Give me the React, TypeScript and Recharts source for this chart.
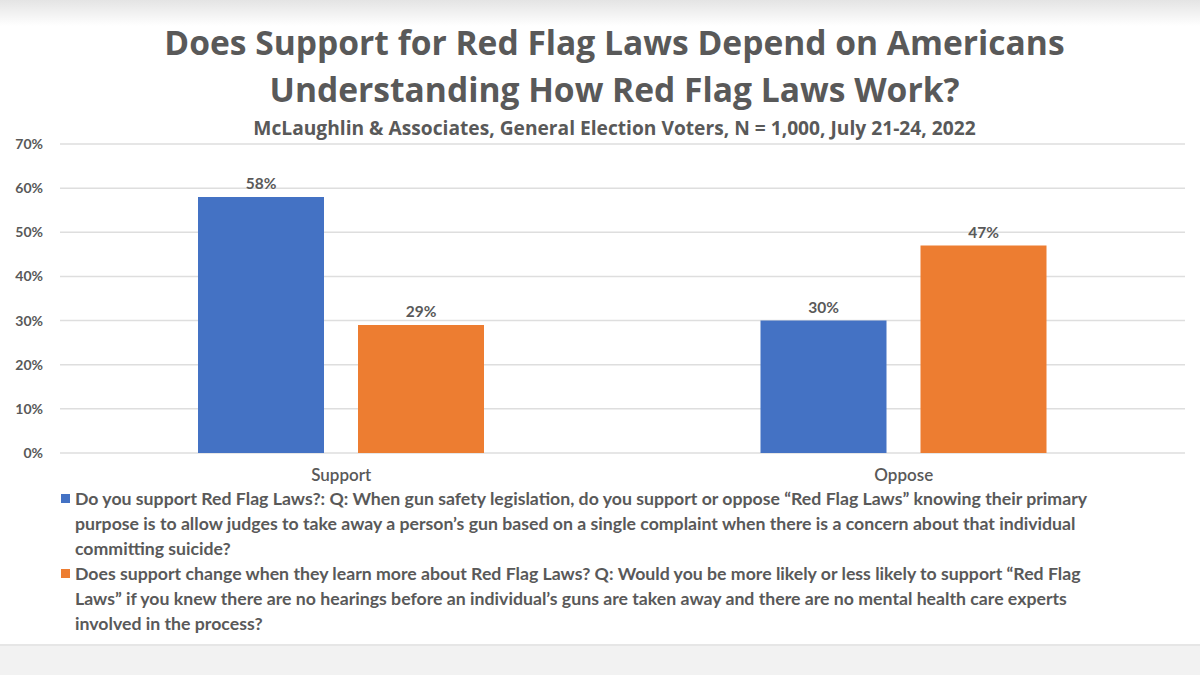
import React from "react";
import { BarChart, Bar, XAxis, YAxis, CartesianGrid, LabelList } from "recharts";

const categories = ["Support", "Oppose"];
const seriesNames = [
  "Do you support Red Flag Laws?: Q: When gun safety legislation, do you support or oppose “Red Flag Laws” knowing their primary purpose is to allow judges to take away a person’s gun based on a single complaint when there is a concern about that individual committing suicide?",
  "Does support change when they learn more about Red Flag Laws? Q: Would you be more likely or less likely to support “Red Flag Laws” if you knew there are no hearings before an individual’s guns are taken away and there are no mental health care experts involved in the process?",
];
const legendLines = [
  [
    "Do you support Red Flag Laws?: Q: When gun safety legislation, do you support or oppose “Red Flag Laws” knowing their primary",
    "purpose is to allow judges to take away a person’s gun based on a single complaint when there is a concern about that individual",
    "committing suicide?",
  ],
  [
    "Does support change when they learn more about Red Flag Laws? Q: Would you be more likely or less likely to support “Red Flag",
    "Laws” if you knew there are no hearings before an individual’s guns are taken away and there are no mental health care experts",
    "involved in the process?",
  ],
];
const knowPurpose = [58, 30];
const learnMore = [29, 47];
const yTicks = [0, 10, 20, 30, 40, 50, 60, 70];
const colors = ["#4472C4", "#ED7D31"];

const data = categories.map((c, i) => ({ name: c, a: knowPurpose[i], b: learnMore[i] }));

const FONT = "Lato, 'Open Sans', sans-serif";
const TFONT = "'Open Sans', Lato, sans-serif";
const GRAY = "#595959";

export default function App() {
  return (
    <div style={{ position: "absolute", left: 0, top: 0, width: 1200, height: 675, background: "#fff", overflow: "hidden", fontFamily: FONT }}>
      <div style={{ position: "absolute", left: 0, top: 0, width: 1200, height: 26, background: "linear-gradient(#e4e4e4, #ffffff)" }} />
      <div style={{ position: "absolute", left: 0, top: 644, width: 1200, height: 31, background: "#f2f2f2", borderTop: "2px solid #e6e6e6" }} />
      <div style={{ position: "absolute", left: 0, width: 1229, top: 19, textAlign: "center", fontFamily: TFONT, fontSize: 33.6, fontWeight: 700, color: GRAY, lineHeight: "47px", whiteSpace: "nowrap" }}>
        Does Support for Red Flag Laws Depend on Americans
        <br />
        Understanding How Red Flag Laws Work?
      </div>
      <div style={{ position: "absolute", left: 0, width: 1229, top: 116, textAlign: "center", fontFamily: TFONT, fontSize: 19.2, fontWeight: 700, color: GRAY, lineHeight: "24px", whiteSpace: "nowrap" }}>
        McLaughlin &amp; Associates, General Election Voters, N = 1,000, July 21-24, 2022
      </div>
      <div style={{ position: "absolute", left: 0, top: 0 }}>
        <BarChart width={1200} height={490} data={data} margin={{ top: 144, right: 15, bottom: 7, left: 0 }} barGap={34} barSize={126}>
          <CartesianGrid vertical={false} stroke="#dedede" strokeWidth={1.5} />
          <XAxis dataKey="name" axisLine={false} tickLine={false} tickSize={0} tickMargin={16} height={30}
            tick={{ fill: GRAY, fontSize: 17, fontWeight: 600, fontFamily: FONT }} />
          <YAxis width={60} domain={[0, 70]} ticks={yTicks} interval={0} axisLine={false} tickLine={false} tickSize={0} tickMargin={17}
            tickFormatter={(v: number) => `${v}%`} tick={{ fill: GRAY, fontSize: 14, fontWeight: 700, fontFamily: FONT }} />
          <Bar dataKey="a" name={seriesNames[0]} fill={colors[0]} isAnimationActive={false}>
            <LabelList dataKey="a" position="top" offset={8} formatter={(v: number) => `${v}%`}
              style={{ fill: GRAY, fontSize: 15.5, fontWeight: 700, fontFamily: FONT }} />
          </Bar>
          <Bar dataKey="b" name={seriesNames[1]} fill={colors[1]} isAnimationActive={false}>
            <LabelList dataKey="b" position="top" offset={8} formatter={(v: number) => `${v}%`}
              style={{ fill: GRAY, fontSize: 15.5, fontWeight: 700, fontFamily: FONT }} />
          </Bar>
        </BarChart>
      </div>
      <div style={{ position: "absolute", left: 61, top: 486 }}>
        {legendLines.map((lines, i) => (
          <div key={i} style={{ position: "relative", paddingLeft: 14 }}>
            <div style={{ position: "absolute", left: 0, top: 8, width: 9, height: 9, background: colors[i] }} />
            {lines.map((ln, j) => (
              <div key={j} style={{ fontSize: 17.7, fontWeight: 700, color: GRAY, lineHeight: "25px", whiteSpace: "nowrap" }}>{ln}</div>
            ))}
          </div>
        ))}
      </div>
    </div>
  );
}
